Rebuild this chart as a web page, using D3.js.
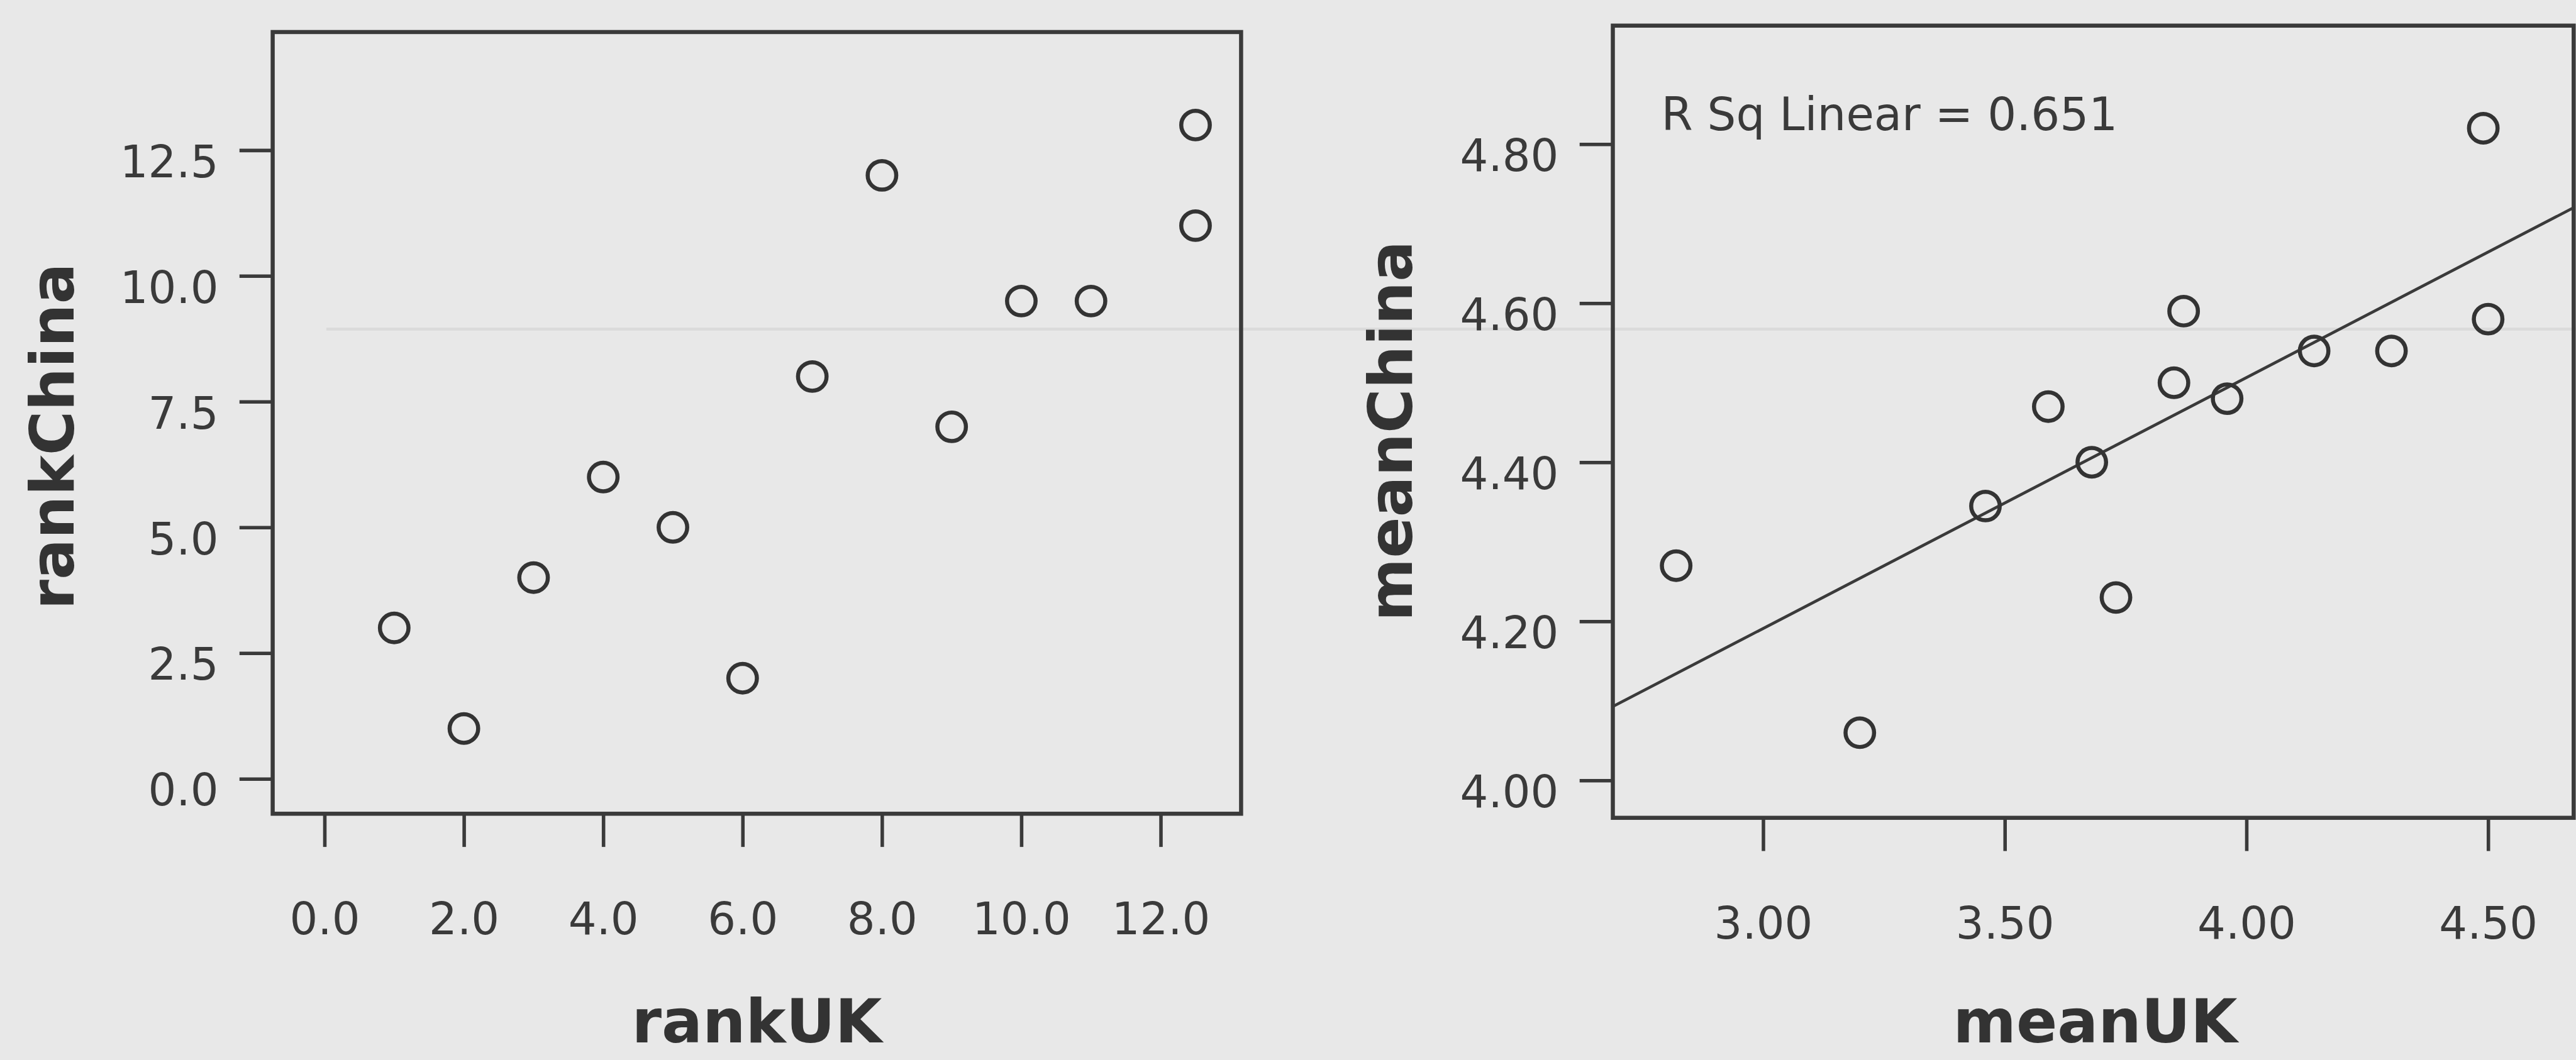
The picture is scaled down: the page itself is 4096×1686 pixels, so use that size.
<!DOCTYPE html>
<html>
<head>
<meta charset="utf-8">
<script src="https://cdn.jsdelivr.net/npm/d3@7"></script>
<style>
  html, body { margin: 0; padding: 0; background: #e8e8e8; overflow: hidden; }
  svg { display: block; }
</style>
</head>
<body>
<script>
// ---------- data ----------
const rankUK    = [1, 2, 3, 4, 5, 6, 7, 8, 9, 10, 11, 12.5, 12.5];
const rankChina = [3, 1, 4, 6, 5, 2, 8, 12, 7, 9.5, 9.5, 13, 11];
const meanUK    = [2.82, 3.20, 3.46, 3.59, 3.68, 3.73, 3.85, 3.87, 3.96, 4.14, 4.30, 4.49, 4.50];
const meanChina = [4.27, 4.06, 4.345, 4.47, 4.40, 4.23, 4.50, 4.59, 4.48, 4.54, 4.54, 4.82, 4.58];

const rankXTicks = [0, 2, 4, 6, 8, 10, 12];
const rankYTicks = [0, 2.5, 5, 7.5, 10, 12.5];
const meanXTicks = [3.0, 3.5, 4.0, 4.5];
const meanYTicks = [4.0, 4.2, 4.4, 4.6, 4.8];
const rSqLabel = "R Sq Linear = 0.651";
const axisTitles = { x1: "rankUK", y1: "rankChina", x2: "meanUK", y2: "meanChina" };

// ---------- layout (reference pixel units, scaled to window) ----------
const W = 4096, H = 1686, S = W / 4421;
const INK = "#3a3a3a";

const svg = d3.select("body").append("svg").attr("width", W).attr("height", H);
svg.append("rect").attr("width", W).attr("height", H).attr("fill", "#e8e8e8");
const root = svg.append("g").attr("transform", `scale(${S})`);

// faint show-through rule of the scanned page
root.append("line").attr("x1", 560).attr("x2", 4421).attr("y1", 565).attr("y2", 565)
  .attr("stroke", "#dadada").attr("stroke-width", 5);

function panel(cfg) {
  const g = root.append("g");
  const x = d3.scaleLinear().domain(cfg.xDom).range([cfg.left, cfg.right]);
  const y = d3.scaleLinear().domain(cfg.yDom).range([cfg.bottom, cfg.top]);

  // axes
  const xa = g.append("g").attr("transform", `translate(0,${cfg.bottom})`)
    .call(d3.axisBottom(x).tickValues(cfg.xTicks).tickFormat(d3.format(cfg.xFmt))
      .tickSize(57).tickPadding(96));
  const ya = g.append("g").attr("transform", `translate(${cfg.left},0)`)
    .call(d3.axisLeft(y).tickValues(cfg.yTicks).tickFormat(d3.format(cfg.yFmt))
      .tickSize(57).tickPadding(36));
  [xa, ya].forEach(a => {
    a.select(".domain").remove();
    a.selectAll(".tick line").attr("stroke", INK).attr("stroke-width", 6);
    a.selectAll(".tick text").attr("fill", INK)
      .attr("font-family", "'DejaVu Sans', Verdana, sans-serif").attr("font-size", 76);
  });
  ya.selectAll(".tick text").attr("dy", "0.60em");

  // frame
  g.append("rect").attr("x", cfg.left).attr("y", cfg.top)
    .attr("width", cfg.right - cfg.left).attr("height", cfg.bottom - cfg.top)
    .attr("fill", "none").attr("stroke", INK).attr("stroke-width", 7);

  // fit line (least squares from the data)
  if (cfg.fit) {
    const n = cfg.xs.length;
    const mx = d3.mean(cfg.xs), my = d3.mean(cfg.ys);
    let sxy = 0, sxx = 0;
    for (let i = 0; i < n; i++) { sxy += (cfg.xs[i] - mx) * (cfg.ys[i] - my); sxx += (cfg.xs[i] - mx) ** 2; }
    const b = sxy / sxx, a0 = my - b * mx;
    const [x0, x1] = cfg.xDom;
    g.append("line")
      .attr("x1", x(x0)).attr("y1", y(a0 + b * x0))
      .attr("x2", x(x1)).attr("y2", y(a0 + b * x1))
      .attr("stroke", INK).attr("stroke-width", 5);
    g.append("text").attr("x", 2851).attr("y", 223)
      .attr("font-family", "'DejaVu Sans', Verdana, sans-serif").attr("font-size", 78)
      .attr("fill", INK).text(rSqLabel);
  }

  // points
  g.append("g").selectAll("circle").data(cfg.xs.map((v, i) => [v, cfg.ys[i]])).join("circle")
    .attr("cx", d => x(d[0])).attr("cy", d => y(d[1])).attr("r", 24.5)
    .attr("fill", "none").attr("stroke", "#333").attr("stroke-width", 7);

  // titles
  g.append("text").attr("x", cfg.xTitleX).attr("y", 1790).attr("text-anchor", "middle")
    .attr("font-family", "'DejaVu Sans', Verdana, sans-serif").attr("font-weight", "bold")
    .attr("font-size", 104).attr("fill", "#333").text(cfg.xTitle);
  g.append("text").attr("transform", `translate(${cfg.yTitleX},${cfg.yTitleY}) rotate(-90)`)
    .attr("text-anchor", "middle")
    .attr("font-family", "'DejaVu Sans', Verdana, sans-serif").attr("font-weight", "bold")
    .attr("font-size", 104).attr("fill", "#333").text(cfg.yTitle);
}

panel({
  xs: rankUK, ys: rankChina,
  xDom: [-0.744, 13.154], yDom: [-0.695, 14.85],
  left: 468, right: 2130, top: 55, bottom: 1397,
  xTicks: rankXTicks, yTicks: rankYTicks, xFmt: ".1f", yFmt: ".1f",
  xTitle: axisTitles.x1, yTitle: axisTitles.y1,
  xTitleX: 1299, yTitleX: 126, yTitleY: 749, fit: false
});

panel({
  xs: meanUK, ys: meanChina,
  xDom: [2.689, 4.677], yDom: [3.953, 4.949],
  left: 2768, right: 4417, top: 44, bottom: 1404,
  xTicks: meanXTicks, yTicks: meanYTicks, xFmt: ".2f", yFmt: ".2f",
  xTitle: axisTitles.x2, yTitle: axisTitles.y2,
  xTitleX: 3596, yTitleX: 2423, yTitleY: 740, fit: true
});
</script>
</body>
</html>
